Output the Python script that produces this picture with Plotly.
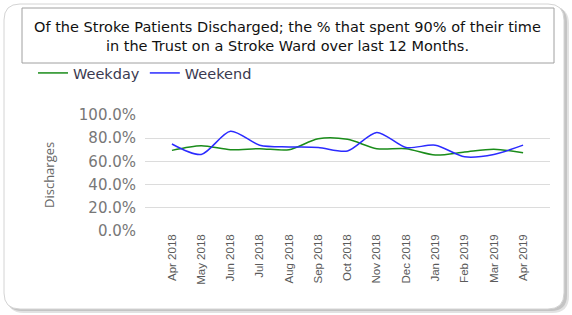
import plotly.graph_objects as go

W, H = 572, 315

months = ["Apr 2018", "May 2018", "Jun 2018", "Jul 2018", "Aug 2018", "Sep 2018", "Oct 2018",
          "Nov 2018", "Dec 2018", "Jan 2019", "Feb 2019", "Mar 2019", "Apr 2019"]
weekday = [69.5, 73.5, 70, 71, 70, 79.5, 79, 71, 71, 65.5, 68, 70.5, 67.5]
weekend = [75, 66, 86, 74, 72.5, 72, 69, 85, 72, 74, 64, 66, 74]
ytick_vals = [0, 20, 40, 60, 80, 100]

title_text = ("Of the Stroke Patients Discharged; the % that spent 90% of their time<br>"
              "in the Trust on a Stroke Ward over last 12 Months.")


def px(x):
    return x / W


def py(y):
    return 1 - y / H


def rounded_rect(x0, y0, x1, y1, r):
    rx, ry = r / W, r / H
    X0, X1 = px(x0), px(x1)
    Y0, Y1 = py(y0), py(y1)
    return (f"M {X0+rx},{Y0} L {X1-rx},{Y0} Q {X1},{Y0} {X1},{Y0-ry} "
            f"L {X1},{Y1+ry} Q {X1},{Y1} {X1-rx},{Y1} "
            f"L {X0+rx},{Y1} Q {X0},{Y1} {X0},{Y1+ry} "
            f"L {X0},{Y0-ry} Q {X0},{Y0} {X0+rx},{Y0} Z")


fig = go.Figure()
fig.add_trace(go.Scatter(x=months, y=weekday, mode="lines", name="Weekday",
                         line=dict(color="#1a8c1a", width=1.5, shape="spline", smoothing=0.8)))
fig.add_trace(go.Scatter(x=months, y=weekend, mode="lines", name="Weekend",
                         line=dict(color="#2b2bff", width=1.5, shape="spline", smoothing=0.8)))

shapes = [
    dict(type="path", xref="paper", yref="paper", path=rounded_rect(7, 7, 569, 313, 17),
         fillcolor="#e2e2e2", line=dict(width=0), layer="below"),
    dict(type="path", xref="paper", yref="paper", path=rounded_rect(6, 6, 567, 311, 16),
         fillcolor="#c4c4c4", line=dict(width=0), layer="below"),
    dict(type="path", xref="paper", yref="paper", path=rounded_rect(4, 4, 564, 309, 16),
         fillcolor="white", line=dict(color="#d4d4d4", width=1), layer="below"),
    dict(type="rect", xref="paper", yref="paper", x0=px(22), x1=px(554), y0=py(8), y1=py(63),
         fillcolor="white", line=dict(color="#a0a0a0", width=1), layer="below"),
]

fig.update_layout(
    width=W, height=H,
    margin=dict(l=0, r=0, t=0, b=0, autoexpand=False),
    paper_bgcolor="white", plot_bgcolor="rgba(0,0,0,0)",
    shapes=shapes,
    showlegend=True,
    legend=dict(orientation="h", x=px(33), y=py(57), xanchor="left", yanchor="top",
                font=dict(family="DejaVu Sans", size=14.5, color="#3a3a50"),
                bgcolor="rgba(0,0,0,0)", itemwidth=30),
    annotations=[
        dict(text=title_text, xref="paper", yref="paper", x=px(287.5), y=py(36),
             xanchor="center", yanchor="middle", showarrow=False, align="center",
             font=dict(family="DejaVu Sans", size=14.5, color="#111")),
        dict(text="Discharges", xref="paper", yref="paper", x=px(49), y=py(175),
             xanchor="center", yanchor="middle", showarrow=False, textangle=-90,
             font=dict(family="Open Sans", size=13, color="#666")),
    ],
    xaxis=dict(domain=[px(145), px(550)], range=[-0.92, 12.92], showgrid=False,
               tickangle=-90, tickfont=dict(family="Liberation Sans", size=11.5, color="#5a5a5a"),
               showline=False, zeroline=False, ticks="", automargin=False),
    yaxis=dict(domain=[py(231), py(115)], range=[0, 100], tickvals=ytick_vals,
               ticktext=[f"{v:.1f}%" for v in ytick_vals],
               showgrid=True, gridcolor="#dcdcdc", gridwidth=1, zeroline=False,
               tickfont=dict(family="DejaVu Sans", size=15, color="#777"),
               ticks="", ticklabelstandoff=8, automargin=False),
)

fig.write_html("out.html", config={"displayModeBar": False},
               post_script="document.body.style.margin='0';")
